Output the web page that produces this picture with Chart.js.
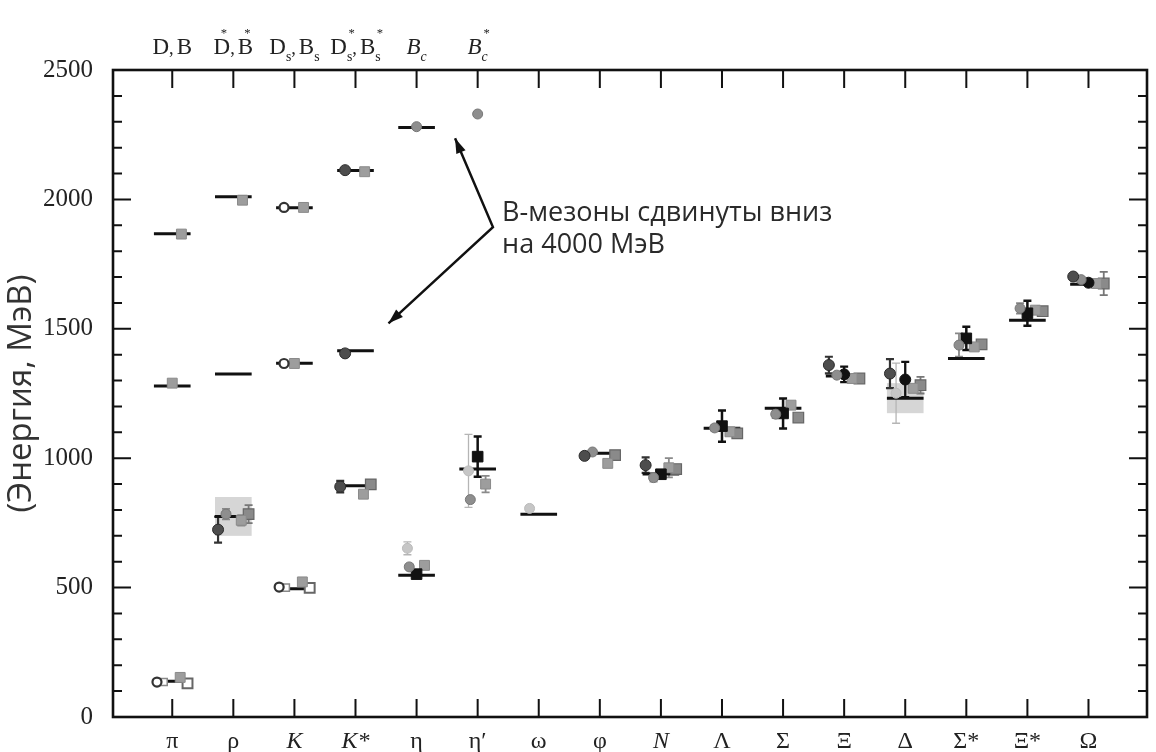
<!DOCTYPE html>
<html>
<head>
<meta charset="utf-8">
<script src="https://cdn.jsdelivr.net/npm/chart.js@4.4.1/dist/chart.umd.min.js"></script>
<style>
  html, body { margin: 0; padding: 0; background: #fff; }
  #wrap { width: 1156px; height: 752px; }
</style>
</head>
<body>
<div id="wrap"><canvas id="spectrum" width="1156" height="752"></canvas></div>
<script>
// hadrons along the bottom axis
const categories = ['π', 'ρ', 'K', 'K*', 'η', 'η′', 'ω', 'φ', 'N', 'Λ', 'Σ', 'Ξ', 'Δ', 'Σ*', 'Ξ*', 'Ω'];
// heavy mesons along the top axis
const heavyLabels = ['D,B', 'D*,B*', 'Ds,Bs', 'Ds*,Bs*', 'Bc', 'Bc*'];
const yTicks = [0, 500, 1000, 1500, 2000, 2500];

// experiment (MeV)
const expLight = [138, 775, 496, 894, 548, 958, 783, 1019, 939, 1116, 1193, 1318, 1232, 1385, 1533, 1672];
const expD = [1867, 2010, 1968, 2112, 2278, null];
const expB = [1279, 1325, 1367, 1415, null, null]; // B - 4000 MeV
// resonance widths (grey boxes)
const bandLow  = [null, 700, null, null, null, null, null, null, null, null, null, null, 1174, null, null, null];
const bandHigh = [null, 850, null, null, null, null, null, null, null, null, null, null, 1290, null, null, null];

// lattice results, one array per marker kind
const darkCircle    = [null, 724, null, 890, null, null, null, 1009, 973, null, null, 1360, 1327, null, null, 1702];
const darkCircleErr = [0, 50, 0, 22, 0, 0, 0, 12, 30, 0, 0, 32, 56, 0, 0, 10];
const darkCircleD   = [null, null, null, 2113, null, null];
const darkCircleB   = [null, null, null, 1405, null, null];

const openCircle  = [135, null, 502, null, null, null, null, null, null, null, null, null, null, null, null, null];
const openCircleD = [null, null, 1969, null, null, null];
const openCircleB = [null, null, 1366, null, null, null];

const smallSquare = [135, null, 500, null, null, null, null, null, null, null, null, null, null, null, null, null];

const greyCircle    = [null, 784, null, null, 580, 840, null, 1024, 925, 1117, 1170, 1321, null, 1437, 1579, 1690];
const greyCircleErr = [0, 20, 0, 0, 0, 0, 0, 0, 15, 12, 15, 8, 0, 45, 20, 8];
const heavyCircleD  = [null, null, null, null, 2281, 2330];

const paleCircle    = [null, null, null, null, 652, 951, 806, null, null, null, null, null, 1251, null, null, null];
const paleCircleErr = [0, 0, 0, 0, 25, 141, 0, 0, 0, 0, 0, 0, 116, 0, 0, 0];

const blackSquare    = [null, null, null, null, 552, 1006, null, null, 938, 1124, 1173, null, null, 1463, 1560, null];
const blackSquareErr = [0, 0, 0, 0, 6, 78, 0, 0, 8, 60, 58, 0, 0, 45, 48, 0];

const blackCircle    = [null, null, null, null, null, null, null, null, null, null, null, 1324, 1304, null, null, 1678];
const blackCircleErr = [0, 0, 0, 0, 0, 0, 0, 0, 0, 0, 0, 30, 68, 0, 0, 8];

const greySquare    = [153, 760, 522, 861, 586, 900, null, 980, 963, 1102, 1205, 1308, 1270, 1430, 1572, 1675];
const greySquareErr = [0, 20, 0, 0, 0, 32, 0, 0, 37, 0, 0, 0, 0, 0, 0, 0];
const greySquareD   = [1866, 1997, 1969, 2107, null, null];
const greySquareB   = [1290, null, 1366, null, null, null];

const darkSquare    = [null, 784, null, 899, null, null, null, 1012, 958, 1096, 1157, 1308, 1282, 1440, 1568, 1675];
const darkSquareErr = [0, 35, 0, 0, 0, 0, 0, 0, 0, 0, 0, 0, 32, 0, 0, 45];

const openSquare = [130, null, 499, null, null, null, null, null, null, null, null, null, null, null, null, null];

// arrow from the note to the shifted B mesons: upper tip, joint, lower tip
const arrowX = [5.63, 6.25, 4.54];
const arrowY = [2236, 1893, 1521];
const noteLines = ['В-мезоны сдвинуты вниз', 'на 4000 МэВ'];

const series = [
  { light: darkCircle, err: darkCircleErr, d: darkCircleD, b: darkCircleB, dx: -0.25, hdx: -0.17, style: 'circle', r: 5.5, fill: '#4d4d4d', edge: '#2b2b2b', bw: 1, errColor: '#333', errW: 2.2 },
  { light: openCircle, d: openCircleD, b: openCircleB, dx: -0.25, hdx: -0.17, style: 'circle', r: 4.5, fill: '#fff', edge: '#333', bw: 2.2 },
  { light: smallSquare, dx: -0.14, style: 'rect', r: 5, fill: '#fff', edge: '#888', bw: 1.5 },
  { light: greyCircle, err: greyCircleErr, d: heavyCircleD, dx: -0.12, hdx: 0, style: 'circle', r: 5, fill: '#8e8e8e', edge: '#777', bw: 1, errColor: '#888', errW: 1.8 },
  { light: paleCircle, err: paleCircleErr, dx: -0.15, style: 'circle', r: 5, fill: '#c6c6c6', edge: '#bbb', bw: 1, errColor: '#b5b5b5', errW: 1.3 },
  { light: blackSquare, err: blackSquareErr, dx: 0, style: 'rect', r: 7.5, fill: '#111', edge: '#111', bw: 1, errColor: '#111', errW: 2.5 },
  { light: blackCircle, err: blackCircleErr, dx: 0, style: 'circle', r: 5.5, fill: '#111', edge: '#111', bw: 1, errColor: '#111', errW: 2.3 },
  { light: greySquare, err: greySquareErr, d: greySquareD, b: greySquareB, dx: 0.13, hdx: 0.15, hbdx: 0, style: 'rect', r: 7, fill: '#9d9d9d', edge: '#8a8a8a', bw: 1, errColor: '#8a8a8a', errW: 1.8 },
  { light: darkSquare, err: darkSquareErr, dx: 0.25, style: 'rect', r: 7.5, fill: '#8a8a8a', edge: '#666', bw: 1.2, errColor: '#777', errW: 1.8 },
  { light: openSquare, dx: 0.25, style: 'rect', r: 7, fill: '#fff', edge: '#666', bw: 2 }
];

function markerPoints(s) {
  const pts = [];
  (s.light || []).forEach((v, i) => {
    if (v != null) pts.push({ x: i + 1 + s.dx, y: v, e: s.err ? s.err[i] : 0 });
  });
  (s.d || []).forEach((v, i) => {
    if (v != null) pts.push({ x: i + 1 + s.hdx, y: v, e: 0 });
  });
  (s.b || []).forEach((v, i) => {
    if (v != null) pts.push({ x: i + 1 + (s.hbdx !== undefined ? s.hbdx : s.hdx), y: v, e: 0 });
  });
  return pts;
}

// experiment as short horizontal bars
function expSegments(values) {
  const pts = [];
  values.forEach((v, i) => {
    if (v == null) return;
    pts.push({ x: i + 1 - 0.3, y: v }, { x: i + 1 + 0.3, y: v }, { x: i + 1, y: null });
  });
  return pts;
}

const datasets = series.map(s => ({
  type: 'scatter',
  data: markerPoints(s),
  pointStyle: s.style,
  pointRadius: s.r,
  pointBackgroundColor: s.fill,
  pointBorderColor: s.edge,
  pointBorderWidth: s.bw,
  showLine: false,
  order: 1,
  errColor: s.errColor,
  errW: s.errW
}));

[expLight, expD, expB].forEach(vals => {
  datasets.push({
    type: 'scatter',
    data: expSegments(vals),
    showLine: true,
    spanGaps: false,
    borderColor: '#111',
    borderWidth: 3,
    pointRadius: 0,
    order: 5
  });
});

datasets.push({
  type: 'scatter',
  data: arrowX.map((x, i) => ({ x: x, y: arrowY[i] })),
  showLine: true,
  borderColor: '#111',
  borderWidth: 2.5,
  pointRadius: 0,
  order: 5
});

// bands and error bars under the markers
const errorBars = {
  id: 'errorBars',
  beforeDatasetsDraw(chart) {
    const ctx = chart.ctx;
    const xs = chart.scales.x, ys = chart.scales.y;
    ctx.save();
    ctx.fillStyle = '#d6d6d6';
    bandLow.forEach((lo, i) => {
      if (lo == null) return;
      const x0 = xs.getPixelForValue(i + 1 - 0.3), x1 = xs.getPixelForValue(i + 1 + 0.3);
      const y0 = ys.getPixelForValue(bandHigh[i]), y1 = ys.getPixelForValue(lo);
      ctx.fillRect(x0, y0, x1 - x0, y1 - y0);
    });
    chart.data.datasets.forEach(ds => {
      if (!ds.errColor) return;
      ctx.strokeStyle = ds.errColor;
      ctx.lineWidth = ds.errW;
      ds.data.forEach(p => {
        if (!p.e) return;
        const x = xs.getPixelForValue(p.x);
        const yt = ys.getPixelForValue(p.y + p.e), yb = ys.getPixelForValue(p.y - p.e);
        ctx.beginPath();
        ctx.moveTo(x, yt); ctx.lineTo(x, yb);
        ctx.moveTo(x - 4, yt); ctx.lineTo(x + 4, yt);
        ctx.moveTo(x - 4, yb); ctx.lineTo(x + 4, yb);
        ctx.stroke();
      });
    });
    ctx.restore();
  }
};

// text with s/c as subscripts and * placed above the previous glyph
function drawRich(ctx, text, cx, base, size, italic) {
  const style = italic ? 'italic ' : '';
  const parts = [];
  for (let k = 0; k < text.length; k++) {
    const ch = text[k];
    if (ch === 's' || ch === 'c') parts.push({ t: ch, f: style + (size * 0.6) + 'px "Liberation Serif"', dy: size * 0.3 });
    else if (ch === '*') parts.push({ t: ch, f: (size * 0.55) + 'px "Liberation Serif"', dy: -size * 0.72, over: true });
    else if (ch === ',') parts.push({ t: ',', f: style + (size * 0.8) + 'px "Liberation Serif"', dy: 0, pad: 3 });
    else parts.push({ t: ch, f: style + size + 'px "Liberation Serif"', dy: 0 });
  }
  let total = 0;
  parts.forEach(p => { ctx.font = p.f; p.w = p.over ? 0 : ctx.measureText(p.t).width + (p.pad || 0); total += p.w; });
  let x = cx - total / 2;
  let prev = null;
  ctx.textBaseline = 'alphabetic';
  parts.forEach(p => {
    ctx.font = p.f;
    if (p.over && prev) {
      ctx.textAlign = 'center';
      ctx.fillText(p.t, prev.x + prev.w / 2 + 2, base + p.dy);
    } else {
      ctx.textAlign = 'left';
      ctx.fillText(p.t, x, base + p.dy);
      prev = { x: x, w: p.w };
      x += p.w;
    }
  });
}

const frame = {
  id: 'frame',
  afterDraw(chart) {
    const ctx = chart.ctx;
    const xs = chart.scales.x, ys = chart.scales.y;
    const { left, right, top, bottom } = chart.chartArea;
    ctx.save();
    ctx.strokeStyle = '#111';
    ctx.lineWidth = 2;
    ctx.beginPath();
    for (let v = 0; v <= 2500; v += 100) {
      const len = v % 500 === 0 ? 18 : 9;
      const y = ys.getPixelForValue(v);
      ctx.moveTo(left, y); ctx.lineTo(left + len, y);
      ctx.moveTo(right, y); ctx.lineTo(right - len, y);
    }
    categories.forEach((c, i) => {
      const x = xs.getPixelForValue(i + 1);
      ctx.moveTo(x, bottom); ctx.lineTo(x, bottom - 18);
      ctx.moveTo(x, top); ctx.lineTo(x, top + 18);
    });
    ctx.stroke();
    ctx.lineWidth = 2.6;
    ctx.strokeRect(left, top, right - left, bottom - top);

    // heavy meson labels on top
    ctx.fillStyle = '#222';
    heavyLabels.forEach((lab, i) => {
      drawRich(ctx, lab, xs.getPixelForValue(i + 1), top - 16, 23, i >= 4);
    });

    // arrow heads
    const jx = xs.getPixelForValue(arrowX[1]), jy = ys.getPixelForValue(arrowY[1]);
    [0, 2].forEach(k => {
      const tx = xs.getPixelForValue(arrowX[k]), ty = ys.getPixelForValue(arrowY[k]);
      const a = Math.atan2(ty - jy, tx - jx);
      ctx.beginPath();
      ctx.moveTo(tx, ty);
      ctx.lineTo(tx - 15 * Math.cos(a) + 5 * Math.sin(a), ty - 15 * Math.sin(a) - 5 * Math.cos(a));
      ctx.lineTo(tx - 15 * Math.cos(a) - 5 * Math.sin(a), ty - 15 * Math.sin(a) + 5 * Math.cos(a));
      ctx.closePath();
      ctx.fillStyle = '#111';
      ctx.fill();
    });

    // note
    ctx.fillStyle = '#2a2a2a';
    ctx.font = '27px "Open Sans"';
    ctx.textAlign = 'left';
    ctx.textBaseline = 'middle';
    const nx = xs.getPixelForValue(6.4), ny = ys.getPixelForValue(1947);
    noteLines.forEach((t, k) => ctx.fillText(t, nx, ny + k * 32));
    ctx.restore();
  }
};

new Chart(document.getElementById('spectrum'), {
  type: 'scatter',
  data: { datasets: datasets },
  options: {
    responsive: false,
    animation: false,
    events: [],
    layout: { padding: { top: 70, right: 1, left: 0, bottom: 0 } },
    plugins: { legend: { display: false }, tooltip: { enabled: false } },
    scales: {
      x: {
        type: 'linear',
        min: 0.03,
        max: 16.958,
        grid: { display: false },
        border: { display: false },
        afterBuildTicks: (scale) => { scale.ticks = categories.map((c, i) => ({ value: i + 1 })); },
        afterFit: (scale) => { scale.height = 35; },
        ticks: {
          autoSkip: false,
          maxRotation: 0,
          padding: 2,
          color: '#222',
          callback: (v) => categories[v - 1],
          font: (ctx) => {
            const lab = categories[ctx.index] || '';
            return { family: 'Liberation Serif', size: 24, style: (lab[0] === 'K' || lab === 'N') ? 'italic' : 'normal' };
          }
        }
      },
      y: {
        type: 'linear',
        min: 0,
        max: 2500,
        grid: { display: false },
        border: { display: false },
        afterBuildTicks: (scale) => { scale.ticks = yTicks.map(v => ({ value: v })); },
        afterFit: (scale) => { scale.width = 113; },
        ticks: {
          padding: 12,
          color: '#222',
          font: { family: 'Liberation Serif', size: 25 },
          callback: (v) => String(v)
        },
        title: {
          display: true,
          text: '(Энергия, МэВ)',
          color: '#333',
          font: { family: 'Open Sans', size: 33 },
          padding: { top: 2, bottom: 0 }
        }
      }
    }
  },
  plugins: [errorBars, frame]
});
</script>
</body>
</html>
